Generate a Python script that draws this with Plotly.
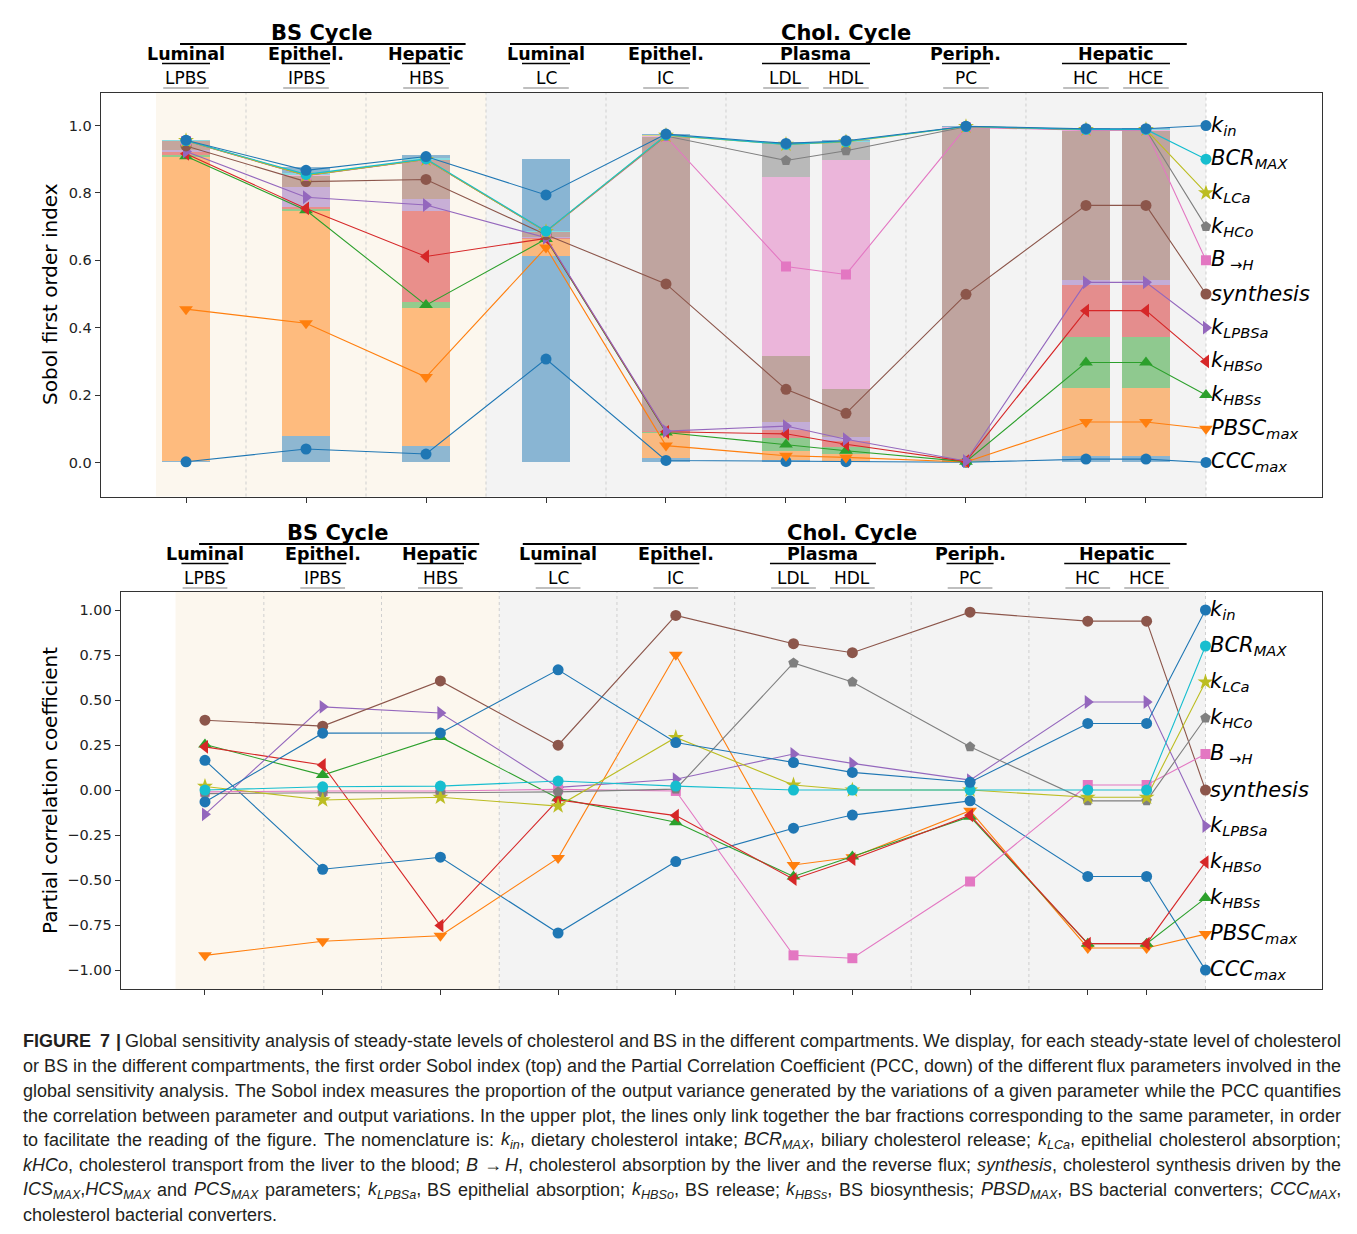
import numpy as np
import plotly.graph_objects as go

# ---------------- data ----------------
categories = ["LPBS", "IPBS", "HBS", "LC", "IC", "LDL", "HDL", "PC", "HC", "HCE"]

# Sobol first-order indices (segment heights), per parameter, per category
sobol_CCC_max   = [0.004, 0.080, 0.050, 0.614, 0.012, 0.006, 0.005, 0.001, 0.020, 0.020]
sobol_PBSC_max  = [0.902, 0.666, 0.407, 0.048, 0.076, 0.028, 0.020, 0.001, 0.200, 0.200]
sobol_k_HBSs    = [0.006, 0.005, 0.020, 0.002, 0.002, 0.039, 0.020, 0.001, 0.153, 0.153]
sobol_k_HBSo    = [0.008, 0.006, 0.269, 0.002, 0.002, 0.024, 0.018, 0.001, 0.155, 0.155]
sobol_k_LPBSa   = [0.006, 0.060, 0.036, 0.002, 0.002, 0.022, 0.012, 0.001, 0.013, 0.013]
sobol_synthesis = [0.027, 0.033, 0.116, 0.016, 0.872, 0.196, 0.142, 0.988, 0.444, 0.444]
sobol_B_H       = [0.002, 0.002, 0.001, 0.001, 0.002, 0.533, 0.682, 0.003, 0.002, 0.002]
sobol_k_HCo     = [0.000, 0.000, 0.000, 0.000, 0.002, 0.096, 0.052, 0.001, 0.001, 0.001]
sobol_k_LCa     = [0.000, 0.000, 0.000, 0.000, 0.001, 0.000, 0.001, 0.000, 0.000, 0.000]
sobol_BCR_MAX   = [0.001, 0.006, 0.004, 0.003, 0.002, 0.000, 0.001, 0.000, 0.001, 0.001]
sobol_k_in      = [0.001, 0.018, 0.010, 0.212, 0.003, 0.006, 0.004, 0.002, 0.003, 0.003]

# Partial correlation coefficients
pcc_k_in      = [-0.066, 0.316, 0.317, 0.668, 0.264, 0.153, 0.098, 0.043, 0.370, 0.370]
pcc_BCR_MAX   = [0.000, 0.018, 0.022, 0.050, 0.022, 0.000, 0.000, 0.000, 0.000, 0.000]
pcc_k_LCa     = [0.020, -0.055, -0.040, -0.089, 0.292, 0.028, 0.000, 0.000, -0.040, -0.040]
pcc_k_HCo     = [-0.020, -0.015, -0.015, -0.010, 0.005, 0.706, 0.600, 0.240, -0.060, -0.060]
pcc_B_H       = [-0.010, -0.005, -0.005, 0.004, -0.005, -0.918, -0.934, -0.508, 0.028, 0.028]
pcc_synthesis = [0.388, 0.355, 0.606, 0.249, 0.970, 0.813, 0.763, 0.988, 0.938, 0.938]
pcc_k_LPBSa   = [-0.135, 0.462, 0.428, 0.015, 0.060, 0.200, 0.148, 0.055, 0.489, 0.489]
pcc_k_HBSo    = [0.240, 0.139, -0.753, -0.055, -0.142, -0.495, -0.384, -0.140, -0.853, -0.853]
pcc_k_HBSs    = [0.253, 0.083, 0.295, -0.046, -0.179, -0.480, -0.369, -0.148, -0.853, -0.853]
pcc_PBSC_max  = [-0.918, -0.840, -0.809, -0.378, 0.752, -0.416, -0.373, -0.115, -0.877, -0.877]
pcc_CCC_max   = [0.165, -0.440, -0.373, -0.794, -0.397, -0.212, -0.139, -0.060, -0.480, -0.480]

# parameters, bottom-to-top stacking order
param_keys = ["CCC_max", "PBSC_max", "k_HBSs", "k_HBSo", "k_LPBSa", "synthesis",
              "B_H", "k_HCo", "k_LCa", "BCR_MAX", "k_in"]
param_labels = {
    "k_in": "<i>k<sub>in</sub></i>",
    "BCR_MAX": "<i>BCR<sub>MAX</sub></i>",
    "k_LCa": "<i>k<sub>LCa</sub></i>",
    "k_HCo": "<i>k<sub>HCo</sub></i>",
    "B_H": "<i>B<sub> →H</sub></i>",
    "synthesis": "<i>synthesis</i>",
    "k_LPBSa": "<i>k<sub>LPBSa</sub></i>",
    "k_HBSo": "<i>k<sub>HBSo</sub></i>",
    "k_HBSs": "<i>k<sub>HBSs</sub></i>",
    "PBSC_max": "<i>PBSC<sub>max</sub></i>",
    "CCC_max": "<i>CCC<sub>max</sub></i>",
}
sobol = {"CCC_max": sobol_CCC_max, "PBSC_max": sobol_PBSC_max, "k_HBSs": sobol_k_HBSs,
         "k_HBSo": sobol_k_HBSo, "k_LPBSa": sobol_k_LPBSa, "synthesis": sobol_synthesis,
         "B_H": sobol_B_H, "k_HCo": sobol_k_HCo, "k_LCa": sobol_k_LCa,
         "BCR_MAX": sobol_BCR_MAX, "k_in": sobol_k_in}
pcc = {"CCC_max": pcc_CCC_max, "PBSC_max": pcc_PBSC_max, "k_HBSs": pcc_k_HBSs,
       "k_HBSo": pcc_k_HBSo, "k_LPBSa": pcc_k_LPBSa, "synthesis": pcc_synthesis,
       "B_H": pcc_B_H, "k_HCo": pcc_k_HCo, "k_LCa": pcc_k_LCa,
       "BCR_MAX": pcc_BCR_MAX, "k_in": pcc_k_in}

# ---------------- styles / layout constants ----------------
tab = {"blue": (31, 119, 180), "orange": (255, 127, 14), "green": (44, 160, 44),
       "red": (214, 39, 40), "purple": (148, 103, 189), "brown": (140, 86, 75),
       "pink": (227, 119, 194), "gray": (127, 127, 127), "olive": (188, 189, 34),
       "cyan": (23, 190, 207)}
style = {
    "CCC_max": ("blue", "circle", 11),
    "PBSC_max": ("orange", "triangle-down", 12),
    "k_HBSs": ("green", "triangle-up", 12),
    "k_HBSo": ("red", "triangle-left", 12),
    "k_LPBSa": ("purple", "triangle-right", 12),
    "synthesis": ("brown", "circle", 11),
    "B_H": ("pink", "square", 10),
    "k_HCo": ("gray", "pentagon", 11),
    "k_LCa": ("olive", "star", 12),
    "BCR_MAX": ("cyan", "circle", 11),
    "k_in": ("blue", "circle", 11),
}
cat_x = [0, 1, 2, 3, 4, 5, 5.5, 6.5, 7.5, 8]
legend_x = 8.5
legend_order = ["k_in", "BCR_MAX", "k_LCa", "k_HCo", "B_H", "synthesis",
                "k_LPBSa", "k_HBSo", "k_HBSs", "PBSC_max", "CCC_max"]
legend_y_top = dict(zip(legend_order, np.linspace(1.0, 0.0, 11)))
legend_y_bot = dict(zip(legend_order, np.linspace(1.0, -1.0, 11)))


def rgb(c, a=1.0):
    r, g, b = tab[c]
    return f"rgba({r},{g},{b},{a})"


W, H, OFF = 1341, 1218, 8


def px(X):
    return (X - OFF) / W


def py(Y):
    return 1 - (Y - OFF) / H


FONT = "DejaVu Sans"
fig = go.Figure()

# ---- top: stacked bars ----
for k in param_keys:
    c = style[k][0]
    fig.add_trace(go.Bar(x=cat_x, y=sobol[k], width=0.4, marker=dict(color=rgb(c, 0.5), line=dict(width=0)),
                         xaxis="x", yaxis="y", hoverinfo="skip", showlegend=False))

vals = np.array([sobol[k] for k in param_keys])
cum = np.cumsum(vals, axis=0)
mids = cum - vals / 2
for i, k in enumerate(param_keys):
    c, sym, sz = style[k]
    fig.add_trace(go.Scatter(x=cat_x + [legend_x], y=list(mids[i]) + [legend_y_top[k]],
                             mode="lines+markers", line=dict(color=rgb(c), width=1.1),
                             marker=dict(symbol=sym, size=sz, color=rgb(c), line=dict(width=0)),
                             xaxis="x", yaxis="y", showlegend=False, hoverinfo="skip"))

# ---- bottom: PCC lines ----
for k in param_keys:
    c, sym, sz = style[k]
    fig.add_trace(go.Scatter(x=cat_x + [legend_x], y=list(pcc[k]) + [legend_y_bot[k]],
                             mode="lines+markers", line=dict(color=rgb(c), width=1.1),
                             marker=dict(symbol=sym, size=sz, color=rgb(c), line=dict(width=0)),
                             xaxis="x2", yaxis="y2", showlegend=False, hoverinfo="skip"))

axis_common = dict(showgrid=False, zeroline=False, showline=True, mirror=True,
                   linecolor="#333333", linewidth=1.2, ticks="outside", ticklen=5,
                   tickcolor="#333333", tickfont=dict(family=FONT, size=14.5, color="#222222"))

top_ticks = [0, 0.2, 0.4, 0.6, 0.8, 1.0]
bot_ticks = [-1.0, -0.75, -0.5, -0.25, 0, 0.25, 0.5, 0.75, 1.0]


def fmt(v):
    s = f"{abs(v):.2f}"
    return ("−" + s) if v < 0 else s


fig.update_layout(
    width=W, height=H, margin=dict(l=0, r=0, t=0, b=0),
    paper_bgcolor="white", plot_bgcolor="white", barmode="stack", showlegend=False,
    xaxis=dict(domain=[px(100.7), px(1322)], range=[-0.711, 9.467], anchor="y",
               tickvals=cat_x, ticktext=[""] * len(cat_x), **axis_common),
    yaxis=dict(domain=[py(496.5), py(92.5)], range=[-0.101, 1.098], anchor="x",
               tickvals=top_ticks, ticktext=[f"{v:.1f}" for v in top_ticks], **axis_common),
    xaxis2=dict(domain=[px(120.7), px(1322)], range=[-0.716, 9.49], anchor="y2",
                tickvals=cat_x, ticktext=[""] * len(cat_x), **axis_common),
    yaxis2=dict(domain=[py(989), py(592)], range=[-1.105, 1.1], anchor="x2",
                tickvals=bot_ticks, ticktext=[fmt(v) for v in bot_ticks], **axis_common),
)

shapes = []
annotations = []
for xr, yr, off in [("x", "y", 0), ("x2", "y2", 500)]:
    shapes.append(dict(type="rect", xref=xr, yref=f"{yr} domain", x0=-0.25, x1=2.5, y0=0, y1=1,
                       fillcolor="#fcf7ee", line=dict(width=0), layer="below"))
    shapes.append(dict(type="rect", xref=xr, yref=f"{yr} domain", x0=2.5, x1=8.5, y0=0, y1=1,
                       fillcolor="#f3f3f3", line=dict(width=0), layer="below"))
    for gx in [0.5, 1.5, 2.5, 3.5, 4.5, 6.0, 7.0, 8.5]:
        shapes.append(dict(type="line", xref=xr, yref=f"{yr} domain", x0=gx, x1=gx, y0=0, y1=1,
                           line=dict(color="#cfcfcf", width=1, dash="dot"), layer="below"))
    # headers
    annotations.append(dict(x=1.13, y=py(33 + off), xref=xr, yref="paper", text="<b>BS Cycle</b>",
                            xanchor="center", yanchor="middle", showarrow=False,
                            font=dict(family=FONT, size=21, color="black")))
    annotations.append(dict(x=5.5, y=py(33 + off), xref=xr, yref="paper", text="<b>Chol. Cycle</b>",
                            xanchor="center", yanchor="middle", showarrow=False,
                            font=dict(family=FONT, size=21, color="black")))
    shapes.append(dict(type="line", xref=xr, yref="paper", x0=-0.05, x1=2.33, y0=py(44 + off), y1=py(44 + off),
                       line=dict(color="black", width=2)))
    shapes.append(dict(type="line", xref=xr, yref="paper", x0=2.7, x1=8.34, y0=py(44 + off), y1=py(44 + off),
                       line=dict(color="black", width=2)))
    groups = [("Luminal", 0, 0), ("Epithel.", 1, 1), ("Hepatic", 2, 2), ("Luminal", 3, 3),
              ("Epithel.", 4, 4), ("Plasma", 5, 5.5), ("Periph.", 6.5, 6.5), ("Hepatic", 7.5, 8)]
    for name, a, b in groups:
        annotations.append(dict(x=(a + b) / 2, y=py(54 + off), xref=xr, yref="paper", text=f"<b>{name}</b>",
                                xanchor="center", yanchor="middle", showarrow=False,
                                font=dict(family=FONT, size=17.5, color="black")))
        shapes.append(dict(type="line", xref=xr, yref="paper", x0=a - 0.2, x1=b + 0.2,
                           y0=py(63.5 + off), y1=py(63.5 + off), line=dict(color="black", width=1.3)))
    for name, cx in zip(categories, cat_x):
        annotations.append(dict(x=cx, y=py(78 + off), xref=xr, yref="paper", text=name,
                                xanchor="center", yanchor="middle", showarrow=False,
                                font=dict(family=FONT, size=17, color="black")))
        shapes.append(dict(type="line", xref=xr, yref="paper", x0=cx - 0.19, x1=cx + 0.19,
                           y0=py(88 + off), y1=py(88 + off), line=dict(color="#aaaaaa", width=1.3)))

# legend labels
for k in legend_order:
    annotations.append(dict(x=legend_x, y=legend_y_top[k], xref="x", yref="y", text=param_labels[k],
                            xanchor="left", yanchor="middle", xshift=3, showarrow=False,
                            font=dict(family=FONT, size=21, color="black")))
    annotations.append(dict(x=legend_x, y=legend_y_bot[k], xref="x2", yref="y2", text=param_labels[k],
                            xanchor="left", yanchor="middle", xshift=3, showarrow=False,
                            font=dict(family=FONT, size=21, color="black")))

# axis titles
annotations.append(dict(x=px(50), y=py(294), xref="paper", yref="paper", text="Sobol first order index",
                        xanchor="center", yanchor="middle", textangle=-90, showarrow=False,
                        font=dict(family=FONT, size=20, color="black")))
annotations.append(dict(x=px(50), y=py(791), xref="paper", yref="paper", text="Partial correlation coefficient",
                        xanchor="center", yanchor="middle", textangle=-90, showarrow=False,
                        font=dict(family=FONT, size=20, color="black")))

# ---------------- caption (justified, word by word) ----------------
caption_lines = [
    "<b>FIGURE</b> <b>7</b> <b>|</b> Global sensitivity analysis of steady-state levels of cholesterol and BS in the different compartments. We display, for each steady-state level of cholesterol",
    "or BS in the different compartments, the first order Sobol index (top) and the Partial Correlation Coefficient (PCC, down) of the different flux parameters involved in the",
    "global sensitivity analysis. The Sobol index measures the proportion of the output variance generated by the variations of a given parameter while the PCC quantifies",
    "the correlation between parameter and output variations. In the upper plot, the lines only link together the bar fractions corresponding to the same parameter, in order",
    "to facilitate the reading of the figure. The nomenclature is: <i>k<sub>in</sub></i>, dietary cholesterol intake; <i>BCR<sub>MAX</sub></i>, biliary cholesterol release; <i>k<sub>LCa</sub></i>, epithelial cholesterol absorption;",
    "<i>kHCo</i>, cholesterol transport from the liver to the blood; <i>B</i> <i>→</i> <i>H</i>, cholesterol absorption by the liver and the reverse flux; <i>synthesis</i>, cholesterol synthesis driven by the",
    "<i>ICS<sub>MAX</sub></i>,<i>HCS<sub>MAX</sub></i> and <i>PCS<sub>MAX</sub></i> parameters; <i>k<sub>LPBSa</sub></i>, BS epithelial absorption; <i>k<sub>HBSo</sub></i>, BS release; <i>k<sub>HBSs</sub></i>, BS biosynthesis; <i>PBSD<sub>MAX</sub></i>, BS bacterial converters; <i>CCC<sub>MAX</sub></i>,",
    "cholesterol bacterial converters.",
]

AW = {' ': 278, '(': 333, ')': 333, ',': 278, '-': 333, '.': 278, ':': 278, ';': 278, '|': 260, '→': 840}
for ch, w in zip("ABCDEFGHIJKLMNOPQRSTUVWXYZ",
                 [667, 667, 722, 722, 667, 611, 778, 722, 278, 500, 667, 556, 833, 722, 778, 667, 778,
                  722, 667, 611, 722, 667, 944, 667, 667, 611]):
    AW[ch] = w
for ch, w in zip("abcdefghijklmnopqrstuvwxyz",
                 [556, 556, 500, 556, 556, 278, 556, 556, 222, 222, 500, 222, 833, 556, 556, 556, 556,
                  333, 500, 278, 556, 500, 722, 500, 500, 500]):
    AW[ch] = w
for ch in "0123456789":
    AW[ch] = 556


def text_width(s, size):
    w, scale, bold, i = 0.0, 1.0, 1.0, 0
    while i < len(s):
        if s[i] == "<":
            j = s.index(">", i)
            tag = s[i + 1:j]
            if tag == "sub":
                scale = 0.7
            elif tag == "/sub":
                scale = 1.0
            elif tag == "b":
                bold = 1.07
            elif tag == "/b":
                bold = 1.0
            i = j + 1
            continue
        w += AW.get(s[i], 556) * scale * bold
        i += 1
    return w * size / 1000.0


CAP_SIZE = 18
CAP_L, CAP_R = 22, 1340
for li, line in enumerate(caption_lines):
    words = line.split(" ")
    size = CAP_SIZE
    last = li == len(caption_lines) - 1
    while True:
        widths = [text_width(wd, size) for wd in words]
        space = AW[' '] * size / 1000.0
        if last:
            gap = space
            break
        gap = (CAP_R - CAP_L - sum(widths)) / (len(words) - 1)
        if gap >= 0.75 * space or size < 14:
            break
        size -= 0.25
    xcur = CAP_L
    Y = 1041 + li * 24.85
    for wd, wdw in zip(words, widths):
        annotations.append(dict(x=px(xcur), y=py(Y), xref="paper", yref="paper", text=wd,
                                xanchor="left", yanchor="middle", showarrow=False, borderpad=0,
                                font=dict(family="Liberation Sans, Arial", size=size, color="#231f20")))
        xcur += wdw + gap

fig.update_layout(shapes=shapes, annotations=annotations)
fig.write_html("out.html")
